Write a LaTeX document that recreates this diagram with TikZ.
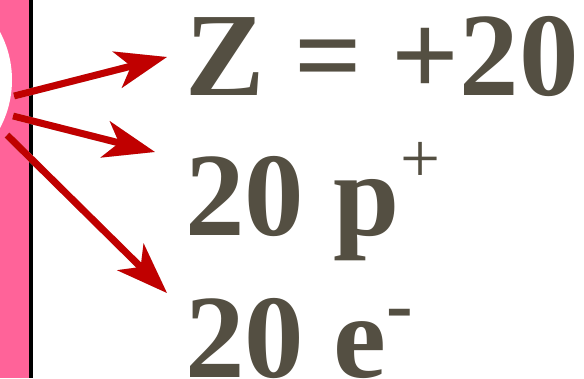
\documentclass[tikz,border=0pt]{standalone}
\usepackage{fontspec}
\setmainfont{Liberation Serif}
\usetikzlibrary{arrows.meta}
\definecolor{stripPink}{HTML}{FF6399}
\definecolor{arrowRed}{HTML}{C00000}
\definecolor{textGray}{HTML}{544F42}
\tikzset{
  arr/.style={line width=7pt, draw=arrowRed, -{Stealth[length=51pt,width=37pt,inset=14pt]}},
  arrshadow/.style={line width=7pt, draw=black!18, -{Stealth[length=51pt,width=37pt,inset=14pt,fill=black!18]}, shift={(3pt,-3pt)}},
  bigtext/.style={anchor=base west, inner sep=0pt, text=textGray, font=\fontsize{119}{119}\selectfont\bfseries}
}
\begin{document}
\begin{tikzpicture}[x=1pt,y=-1pt]
\useasboundingbox (0,0) rectangle (584,378);
\fill[white] (0,0) rectangle (584,378);
% pink strip with white circle and black line
\fill[stripPink] (0,0) rectangle (29,378);
\begin{scope}
\clip (0,0) rectangle (29,378);
\fill[white] (-90,80) circle (102);
\end{scope}
\fill[black] (28.5,0) rectangle (33,378);
% texts
\node[bigtext] (z) at (185,95) {Z = +20};
\node[bigtext] (p) at (185,235) {20 p\raisebox{53pt}{\fontsize{71}{71}\selectfont\mdseries +}};
\node[bigtext] (e) at (185,377) {20 e\raisebox{46pt}{\fontsize{80}{80}\selectfont -}};
% arrow endpoints
\coordinate (s1) at (14,96);
\coordinate (t1) at (167,57);
\coordinate (s2) at (13,116);
\coordinate (t2) at (155,152);
\coordinate (s3) at (7,135);
\coordinate (t3) at (167,293);
% shadows
\draw[arrshadow] (s1) -- (t1);
\draw[arrshadow] (s2) -- (t2);
\draw[arrshadow] (s3) -- (t3);
% arrows
\draw[arr] (s1) -- (t1);
\draw[arr] (s2) -- (t2);
\draw[arr] (s3) -- (t3);
\end{tikzpicture}
\end{document}
